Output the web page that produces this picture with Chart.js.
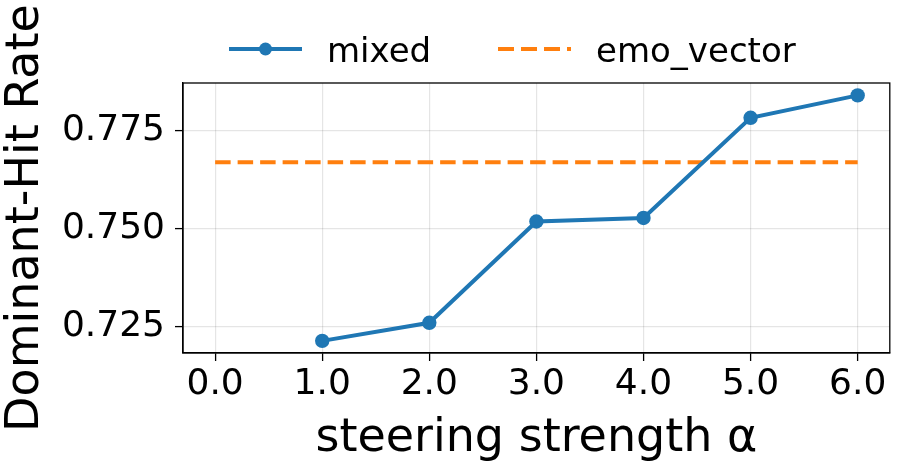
<!DOCTYPE html>
<html>
<head>
<meta charset="utf-8">
<script src="https://cdn.jsdelivr.net/npm/chart.js@4.4.1/dist/chart.umd.min.js"></script>
<style>
  html, body { margin: 0; padding: 0; background: #fff; }
  #wrap { width: 897px; height: 469px; }
</style>
</head>
<body>
<div id="wrap"><canvas id="hitChart" width="897" height="469"></canvas></div>
<script>
// values
const alphaValues = [1, 2, 3, 4, 5, 6];
const mixedRate = [0.7214, 0.7260, 0.7518, 0.7527, 0.7782, 0.7839];
const emoVectorX = [0, 6];
const emoVectorRate = [0.7669, 0.7669];
const xTicks = [0, 1, 2, 3, 4, 5, 6];
const yTicks = [0.725, 0.750, 0.775];

const BLUE = '#1f77b4';
const ORANGE = '#ff7f0e';
const FONT = 'DejaVu Sans';

Chart.defaults.color = '#000';
Chart.defaults.font.family = FONT;

// matplotlib style frame on all four sides
const axesFrame = {
  id: 'axesFrame',
  afterDatasetsDraw(chart) {
    const { ctx, chartArea: a } = chart;
    ctx.save();
    ctx.strokeStyle = '#000';
    ctx.lineWidth = 1.3;
    ctx.strokeRect(a.left, a.top, a.right - a.left, a.bottom - a.top);
    ctx.restore();
  }
};

// legend with line samples (line + marker / dashed line)
const lineLegend = {
  id: 'lineLegend',
  afterDraw(chart, args, opts) {
    const ctx = chart.ctx;
    ctx.save();
    chart.data.datasets.forEach((ds, i) => {
      const x0 = opts.x[i];
      const y = opts.lineY;
      ctx.strokeStyle = ds.borderColor;
      ctx.lineWidth = ds.borderWidth;
      ctx.setLineDash(ds.borderDash ? opts.dash : []);
      ctx.beginPath();
      ctx.moveTo(x0, y);
      ctx.lineTo(x0 + opts.handle, y);
      ctx.stroke();
      ctx.setLineDash([]);
      if (ds.pointRadius > 0) {
        ctx.fillStyle = ds.borderColor;
        ctx.beginPath();
        ctx.arc(x0 + opts.handle / 2, y, opts.markerRadius, 0, Math.PI * 2);
        ctx.fill();
      }
      ctx.fillStyle = '#000';
      ctx.font = opts.fontSize + 'px "' + FONT + '"';
      ctx.textBaseline = 'alphabetic';
      ctx.textAlign = 'left';
      ctx.fillText(ds.label, x0 + opts.handle + opts.gap, opts.textY);
    });
    ctx.restore();
  }
};

new Chart(document.getElementById('hitChart'), {
  type: 'line',
  data: {
    datasets: [
      {
        label: 'mixed',
        data: alphaValues.map((a, i) => ({ x: a, y: mixedRate[i] })),
        borderColor: BLUE,
        backgroundColor: BLUE,
        borderWidth: 4,
        pointRadius: 7.2,
        pointBorderWidth: 0,
        pointBackgroundColor: BLUE,
        tension: 0
      },
      {
        label: 'emo_vector',
        data: emoVectorX.map((a, i) => ({ x: a, y: emoVectorRate[i] })),
        borderColor: ORANGE,
        backgroundColor: ORANGE,
        borderWidth: 4,
        borderDash: [15.5, 7],
        pointRadius: 0,
        tension: 0
      }
    ]
  },
  options: {
    responsive: false,
    animation: false,
    layout: { padding: { top: 83, right: 5, left: 0, bottom: 0 } },
    plugins: {
      legend: { display: false },
      tooltip: { enabled: false },
      lineLegend: {
        x: [229, 498], lineY: 49, textY: 62, handle: 73, gap: 25,
        markerRadius: 6.5, dash: [16, 7], fontSize: 34
      }
    },
    scales: {
      x: {
        type: 'linear',
        min: -0.3,
        max: 6.3,
        afterBuildTicks: s => { s.ticks = xTicks.map(v => ({ value: v })); },
        afterFit: s => { s.height = 116; },
        ticks: {
          callback: v => v.toFixed(1),
          font: { size: 36 },
          padding: 2,
          maxRotation: 0
        },
        grid: { color: 'rgba(0,0,0,0.1)', lineWidth: 1.2, tickLength: 8, tickColor: '#000', tickWidth: 1.3 },
        border: { display: true, color: '#000', width: 1.3 },
        title: {
          display: true,
          text: 'steering strength α',
          font: { size: 46, lineHeight: 1 },
          padding: { top: 0, bottom: 7 }
        }
      },
      y: {
        min: 0.71831,
        max: 0.78706,
        afterBuildTicks: s => { s.ticks = yTicks.map(v => ({ value: v })); },
        afterFit: s => { s.width = 183; },
        ticks: {
          callback: v => v.toFixed(3),
          font: { size: 36 },
          padding: 10
        },
        grid: { color: 'rgba(0,0,0,0.1)', lineWidth: 1.2, tickLength: 8, tickColor: '#000', tickWidth: 1.3 },
        border: { display: true, color: '#000', width: 1.3 },
        title: {
          display: true,
          text: 'Dominant-Hit Rate',
          font: { size: 46, lineHeight: 1 },
          padding: { top: 3, bottom: 0 }
        }
      }
    }
  },
  plugins: [axesFrame, lineLegend]
});
</script>
</body>
</html>
